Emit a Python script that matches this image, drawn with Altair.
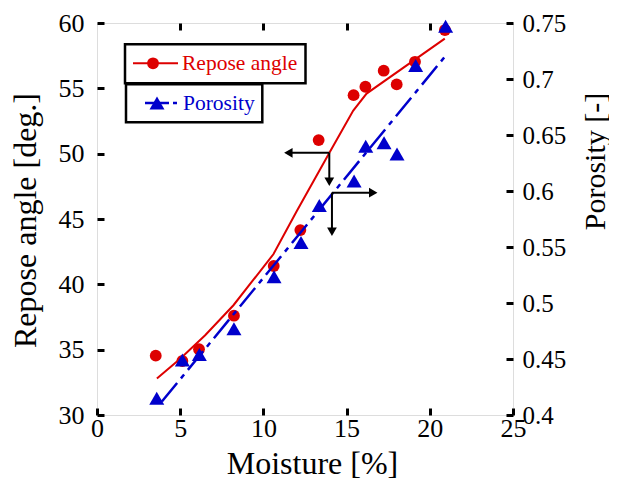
import altair as alt
import pandas as pd

# ---- data ----
moisture_angle = [3.53, 5.13, 6.13, 8.23, 10.62, 12.22, 13.32, 15.42, 16.13, 17.23, 18.01, 19.11, 20.91]
repose_angle = [34.54, 34.13, 35.03, 37.6, 41.4, 44.15, 51.04, 54.48, 55.12, 56.35, 55.3, 57.03, 59.46]

moisture_por = [3.59, 5.13, 6.15, 8.23, 10.64, 12.26, 13.36, 15.45, 16.15, 17.25, 18.03, 19.15, 20.95]
porosity = [0.415, 0.449, 0.454, 0.477, 0.5235, 0.554, 0.587, 0.609, 0.640, 0.643, 0.633, 0.712, 0.747]

fit_angle_x = [3.6, 5.0, 6.5, 8.2, 10.6, 12.0, 14.0, 15.4, 16.2, 20.9]
fit_angle_y = [32.8, 34.3, 36.1, 38.4, 42.3, 45.6, 50.15, 53.3, 54.6, 58.8]

fit_por_x = [3.9, 20.91]
fit_por_y = [0.412, 0.72]

# annotation arrows (left arrow -> repose angle axis, right arrow -> porosity axis)
arrow_l_x = [13.96, 13.96]
arrow_l_y = [50.07, 50.07]
arrow_l_x2 = [11.5, 13.96]
arrow_l_y2 = [50.07, 47.85]
head_l_shape = ["triangle-left", "triangle-down"]

arrow_r_x = [14.12, 14.12]
arrow_r_y = [0.5985, 0.5985]
arrow_r_x2 = [16.6, 14.12]
arrow_r_y2 = [0.5985, 0.5637]
head_r_shape = ["triangle-right", "triangle-down"]

x_ticks = [0, 5, 10, 15, 20, 25]
yl_ticks = [30, 35, 40, 45, 50, 55, 60]
yr_ticks = [0.4, 0.45, 0.5, 0.55, 0.6, 0.65, 0.7, 0.75]

legend_labels = ["Repose angle", "Porosity"]

RED = "#dd0000"
BLUE = "#0000cc"
FONT = "Liberation Serif"
W, H = 416, 392
T = 7  # tick length (inward)

xs = alt.Scale(domain=[0, 25], nice=False, zero=False)
yls = alt.Scale(domain=[30, 60], nice=False, zero=False)
yrs = alt.Scale(domain=[0.4, 0.75], nice=False, zero=False)

ax_bottom = alt.Axis(orient="bottom", values=x_ticks, offset=-T, tickSize=T, tickWidth=3,
                     tickColor="black", domain=False, grid=False, labelFlush=False,
                     labelOverlap=False, labelFont=FONT, labelFontSize=26, labelColor="black",
                     labelPadding=0, title="Moisture [%]", titleFont=FONT, titleFontSize=32,
                     titleFontWeight="normal", titleColor="black", titleX=215, titleY=65,
                     titleBaseline="alphabetic", titleAlign="center")
ax_top = alt.Axis(orient="top", values=[5, 10, 15, 20], offset=-T, tickSize=T, tickWidth=3,
                  tickColor="black", domain=False, grid=False, labels=False, title=None)
ax_left = alt.Axis(orient="left", values=yl_ticks, offset=-T, tickSize=T, tickWidth=3,
                   tickColor="black", domain=False, grid=False, format="~g",
                   labelFont=FONT, labelFontSize=26, labelColor="black", labelPadding=13,
                   labelOverlap=False,
                   title="Repose angle [deg.]", titleFont=FONT, titleFontSize=32,
                   titleFontWeight="normal", titleColor="black", titleAngle=270,
                   titleX=-69, titleY=197, titleAlign="center", titleBaseline="alphabetic")
ax_right = alt.Axis(orient="right", values=yr_ticks, offset=-T, tickSize=T, tickWidth=3,
                    tickColor="black", domain=False, grid=False, format="~g",
                    labelFont=FONT, labelFontSize=25, labelColor="black", labelPadding=9,
                    labelOverlap=False,
                    title="Porosity [-]", titleFont=FONT, titleFontSize=30,
                    titleFontWeight="normal", titleColor="black", titleAngle=270,
                    titleX=98, titleY=138, titleAlign="center", titleBaseline="alphabetic")

XB = alt.X("x:Q", scale=xs, axis=ax_bottom)
YL = alt.Y("y:Q", scale=yls, axis=ax_left)
XT = alt.X("x:Q", scale=xs, axis=ax_top)
YR = alt.Y("y:Q", scale=yrs, axis=ax_right)

df_pts_l = pd.DataFrame({"x": moisture_angle, "y": repose_angle})
df_fit_l = pd.DataFrame({"x": fit_angle_x, "y": fit_angle_y})
df_pts_r = pd.DataFrame({"x": moisture_por, "y": porosity})
df_fit_r = pd.DataFrame({"x": fit_por_x, "y": fit_por_y})
df_arr_l = pd.DataFrame({"x": arrow_l_x, "y": arrow_l_y, "x2": arrow_l_x2, "y2": arrow_l_y2})
df_head_l = pd.DataFrame({"x": arrow_l_x2, "y": arrow_l_y2, "shape": head_l_shape})
df_arr_r = pd.DataFrame({"x": arrow_r_x, "y": arrow_r_y, "x2": arrow_r_x2, "y2": arrow_r_y2})
df_head_r = pd.DataFrame({"x": arrow_r_x2, "y": arrow_r_y2, "shape": head_r_shape})

left_group = alt.layer(
    alt.Chart(df_fit_l).mark_line(color=RED, strokeWidth=2).encode(x=XB, y=YL),
    alt.Chart(df_pts_l).mark_point(shape="circle", filled=True, fill=RED, size=140, opacity=1)
        .encode(x=XB, y=YL),
    alt.Chart(df_arr_l).mark_rule(color="black", strokeWidth=2)
        .encode(x=XB, y=YL, x2="x2:Q", y2="y2:Q"),
    alt.Chart(df_head_l).mark_point(filled=True, fill="black", size=95, opacity=1)
        .encode(x=XB, y=YL, shape=alt.Shape("shape:N", scale=None)),
)

right_group = alt.layer(
    alt.Chart(df_fit_r).mark_line(color=BLUE, strokeWidth=2.5, strokeDash=[24, 6, 5, 6])
        .encode(x=XT, y=YR),
    alt.Chart(df_pts_r).mark_point(shape="triangle-up", filled=True, fill=BLUE, size=225, opacity=1)
        .encode(x=XT, y=YR),
    alt.Chart(df_arr_r).mark_rule(color="black", strokeWidth=2)
        .encode(x=XT, y=YR, x2="x2:Q", y2="y2:Q"),
    alt.Chart(df_head_r).mark_point(filled=True, fill="black", size=95, opacity=1)
        .encode(x=XT, y=YR, shape=alt.Shape("shape:N", scale=None)),
)

one = pd.DataFrame({"k": [0]})
lg = alt.Chart(one)
legend = alt.layer(
    lg.mark_rect(fill="white", stroke="black", strokeWidth=2.5).encode(
        x=alt.value(28), x2=alt.value(208.5), y=alt.value(21.3), y2=alt.value(60.3)),
    lg.mark_rect(fill="white", stroke="black", strokeWidth=2.5).encode(
        x=alt.value(29), x2=alt.value(165.3), y=alt.value(61.3), y2=alt.value(99.3)),
    lg.mark_rule(color=RED, strokeWidth=2).encode(
        x=alt.value(36), x2=alt.value(81), y=alt.value(40.3)),
    lg.mark_point(shape="circle", filled=True, fill=RED, size=140, opacity=1).encode(
        x=alt.value(56), y=alt.value(40.3)),
    lg.mark_text(text=legend_labels[0], color=RED, font=FONT, fontSize=21.5, align="left",
                 baseline="middle").encode(x=alt.value(85), y=alt.value(41)),
    lg.mark_rule(color=BLUE, strokeWidth=2.5, strokeDash=[10, 4]).encode(
        x=alt.value(48), x2=alt.value(80), y=alt.value(80)),
    lg.mark_point(shape="triangle-up", filled=True, fill=BLUE, size=225, opacity=1).encode(
        x=alt.value(60), y=alt.value(80)),
    lg.mark_text(text=legend_labels[1], color=BLUE, font=FONT, fontSize=21.5, align="left",
                 baseline="middle").encode(x=alt.value(86), y=alt.value(81)),
)

chart = alt.layer(left_group, right_group, legend).resolve_scale(
    y="independent"
).resolve_axis(
    x="independent", y="independent"
).properties(
    width=W, height=H,
    autosize=alt.AutoSizeParams(type="none"),
    padding={"left": 89, "top": 15, "right": 96, "bottom": 64},
).configure_view(
    stroke="black", strokeWidth=3
).configure(background="white")

chart.save("out.html", embed_options={"renderer": "svg", "actions": False})
